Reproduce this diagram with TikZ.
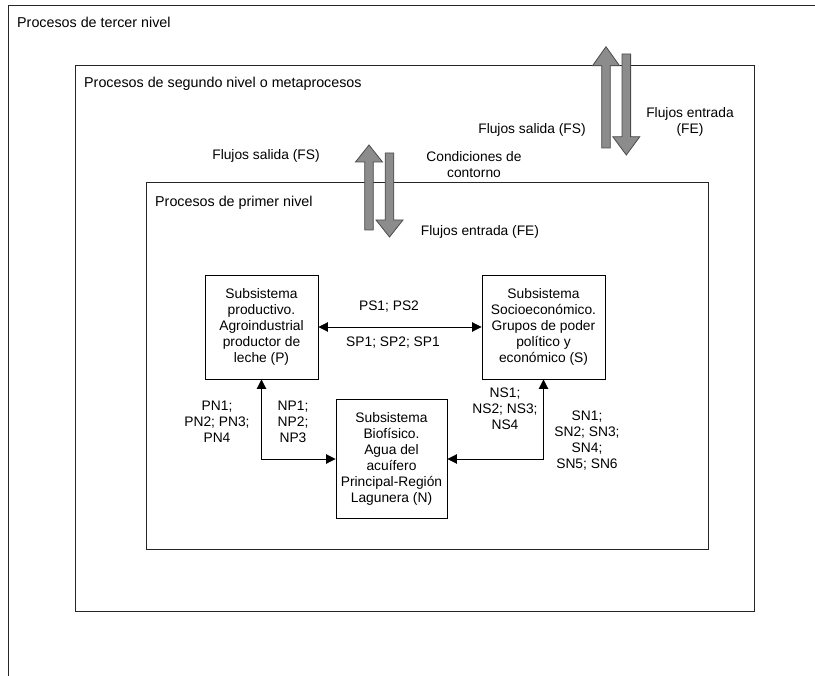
\documentclass[tikz,border=0pt]{standalone}
\usepackage{fontspec}
\setmainfont{Liberation Sans}
\usetikzlibrary{arrows.meta}
\begin{document}
\begin{tikzpicture}[x=1pt,y=-1pt,
  every node/.style={font=\fontsize{13.8}{16}\selectfont, inner sep=0pt, align=center},
  leveltitle/.style={anchor=base west, font=\fontsize{14.3}{16}\selectfont},
  frame/.style={draw=black!85, line width=1pt},
  subsys/.style={draw=black, line width=0.9pt},
  link/.style={line width=0.9pt, {Triangle[length=9.5pt,width=9.5pt]}-{Triangle[length=9.5pt,width=9.5pt]}},
  flow/.style={fill=black!45, draw=black!70, line width=0.8pt}]

\useasboundingbox (0,0) rectangle (815,676);
\fill[white] (0,0) rectangle (815,676);

% nested process levels
\draw[frame] (8,676) -- (8,6) -- (815,6);
\draw[frame] (75,66) rectangle (754,611);
\draw[frame] (146,183) rectangle (708,550);

\node[leveltitle] (t3) at (17,28) {Procesos de tercer nivel};
\node[leveltitle] (t2) at (84,88) {Procesos de segundo nivel o metaprocesos};
\node[leveltitle] (t1) at (155,207) {Procesos de primer nivel};

% exchange flows across the boundaries
\draw[flow] (601.7,148) -- (601.7,65.7) -- (592.5,65.7) -- (606,46.7) -- (619.5,65.7) -- (610.3,65.7) -- (610.3,148) -- cycle;
\draw[flow] (622,54) -- (622,136.7) -- (612.8,136.7) -- (626.3,155) -- (639.8,136.7) -- (630.6,136.7) -- (630.6,54) -- cycle;
\draw[flow] (364.7,230) -- (364.7,162) -- (355.5,162) -- (369,145) -- (382.5,162) -- (373.3,162) -- (373.3,230) -- cycle;
\draw[flow] (385.2,153) -- (385.2,220) -- (376,220) -- (389.5,237) -- (403,220) -- (393.8,220) -- (393.8,153) -- cycle;

\node (fs2) at (532,130) {Flujos salida (FS)};
\node (fe2) at (690,122) {Flujos entrada\\(FE)};
\node (cc) at (474,164.5) {Condiciones de\\contorno};
\node (fe1) at (480,232) {Flujos entrada (FE)};
\node (fs1) at (266,156) {Flujos salida (FS)};

% subsystems
\node[subsys, minimum width=113pt, minimum height=104pt] (P) at (261.5,327)
  {Subsistema\\productivo.\\Agroindustrial\\productor de\\leche (P)};
\node[subsys, minimum width=123pt, minimum height=104pt] (S) at (543.5,327)
  {Subsistema\\Socioeconómico.\\Grupos de poder\\político y\\económico (S)};
\node[subsys, minimum width=111pt, minimum height=119pt] (N) at (391.5,459)
  {Subsistema\\Biofísico.\\Agua del\\acuífero\\Principal-Región\\Lagunera (N)};

% interactions
\draw[link] (P.east) -- (S.west);
\draw[link] (P.south) |- (N.west);
\draw[link] (S.south) |- (N.east);

\node (ps) at (389,307) {PS1; PS2};
\node (sp) at (393,343) {SP1; SP2; SP1};
\node (pn) at (217,422) {PN1;\\PN2; PN3;\\PN4};
\node (np) at (293,422) {NP1;\\NP2;\\NP3};
\node (ns) at (505,409) {NS1;\\NS2; NS3;\\NS4};
\node (sn) at (587,441) {SN1;\\SN2; SN3;\\SN4;\\SN5; SN6};
\end{tikzpicture}
\end{document}
